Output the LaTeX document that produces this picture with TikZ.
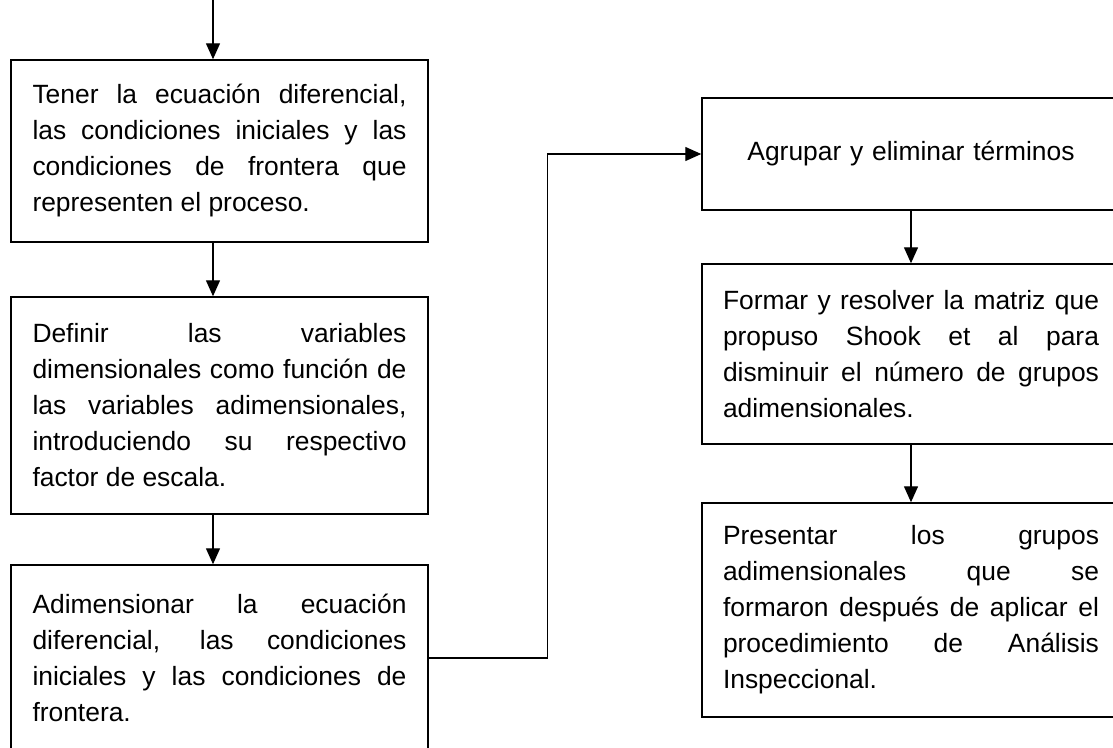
\documentclass[tikz,border=0pt]{standalone}
\usepackage{fontspec}
\setmainfont{Liberation Sans}
\usetikzlibrary{arrows.meta}

\begin{document}
\begin{tikzpicture}[x=0.75pt, y=-0.75pt,
    caja/.style={draw, line width=1.1pt, text width=280.5pt, inner xsep=16pt, inner ysep=0pt, align=justify, font=\fontsize{19.8}{27}\selectfont},
    cajader/.style={caja, text width=282pt, inner xsep=15.75pt},
    flecha/.style={-{Triangle[length=12pt,width=10.5pt]}, line width=1pt}]
            \useasboundingbox (0,0) rectangle (1113,747);

            % left column
            \node[caja, minimum height=136.5pt] (tener) at (219.5,151) {Tener la ecuación diferencial,\linebreak las condiciones iniciales y las\linebreak condiciones de frontera que\linebreak representen el proceso.};
            \node[caja, minimum height=162.75pt] (definir) at (219.5,405.5) {Definir las variables\linebreak dimensionales como función de\linebreak las variables adimensionales,\linebreak introduciendo su respectivo\linebreak factor de escala.};
            \node[caja, minimum height=139.5pt] (adim) at (219.5,658) {Adimensionar la ecuación\linebreak diferencial, las condiciones\linebreak iniciales y las condiciones de\linebreak frontera.};

            % right column
            \node[cajader, minimum height=84pt, align=center] (agrupar) at (911,154) {Agrupar y eliminar términos};
            \node[cajader, minimum height=135pt] (formar) at (911,354) {Formar y resolver la matriz que\linebreak propuso Shook et al para\linebreak disminuir el número de grupos\linebreak adimensionales.};
            \node[cajader, minimum height=160.5pt] (presentar) at (911,610) {Presentar los grupos\linebreak adimensionales que se\linebreak formaron después de aplicar el\linebreak procedimiento de Análisis\linebreak Inspeccional.};

            % Draw edges
            \coordinate (inicio) at (213,0);
            \draw[flecha] (inicio) -- (inicio |- tener.north);
            \draw[flecha] (tener.south -| inicio) -- (definir.north -| inicio);
            \draw[flecha] (definir.south -| inicio) -- (adim.north -| inicio);
            \draw[flecha] (adim.east) -- ++(119,0) |- (agrupar.west);
            \draw[flecha] (agrupar.south) -- (formar.north);
            \draw[flecha] (formar.south) -- (presentar.north);
        \end{tikzpicture}
\end{document}
